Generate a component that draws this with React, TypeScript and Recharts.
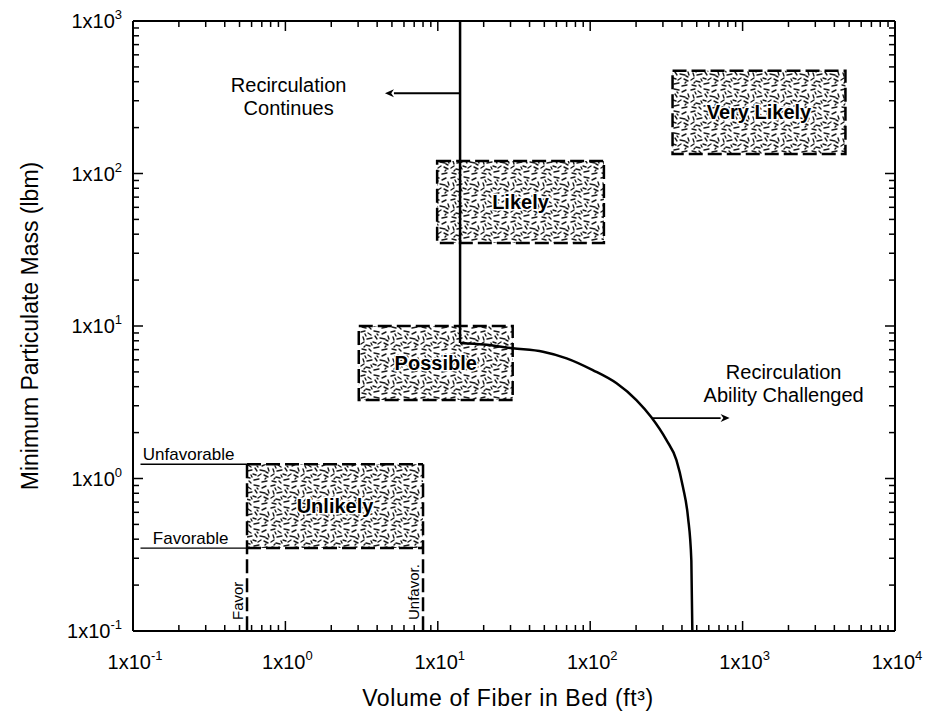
import React from 'react';
import {
  ComposedChart,
  Line,
  XAxis,
  YAxis,
  ReferenceArea,
  ReferenceLine,
  Scatter,
} from 'recharts';

const FONT = "Arial, 'Liberation Sans', Helvetica, sans-serif";

// ---- axis ticks ----
const xMajorTicks = [0.1, 1, 10, 100, 1000, 10000];
const xTickExponents = ['-1', '0', '1', '2', '3', '4'];
const yMajorTicks = [0.1, 1, 10, 100, 1000];
const yTickExponents = ['-1', '0', '1', '2', '3'];
const minorSteps = [2, 3, 4, 5, 6, 7, 8, 9];

const xAllTicks = [
  ...xMajorTicks,
  ...xMajorTicks.slice(0, -1).flatMap((d) => minorSteps.map((m) => m * d)),
];
const yAllTicks = [
  ...yMajorTicks,
  ...yMajorTicks.slice(0, -1).flatMap((d) => minorSteps.map((m) => m * d)),
];

// ---- boundary (vertical limit + curve) ----
const limitVolume = [14, 14];
const limitMass = [1000, 7.74];
const curveVolume = [14, 20, 31, 49, 70, 104, 149, 201, 252, 316, 368, 406, 438, 461, 468];
const curveMass = [7.74, 7.55, 7.14, 6.78, 6.14, 5.14, 4.21, 3.27, 2.52, 1.79, 1.32, 0.88, 0.56, 0.29, 0.1];

// ---- likelihood boxes ----
const boxNames = ['Unlikely', 'Possible', 'Likely', 'Very Likely'];
const boxVolumeLow = [0.56, 3.03, 9.9, 347];
const boxVolumeHigh = [8, 31, 123, 4730];
const boxMassLow = [0.35, 3.27, 35, 134];
const boxMassHigh = [1.24, 10, 121, 472];

// ---- favorable / unfavorable criteria ----
const favorVolume = 0.56;
const unfavorVolume = 8;
const favorMass = 0.35;
const unfavorMass = 1.24;
const axisMinMass = 0.1;
const underlineStart = 0.112;

// ---- arrows ----
const arrowFromVolume = [14, 253];
const arrowToVolume = [4.5, 822];
const arrowMass = [336, 2.49];

// ---- text notes ----
const noteVolume = [1.05, 1860];
const noteMass = [342, 4.49];
const noteLines = [
  ['Recirculation', 'Continues'],
  ['Recirculation', 'Ability Challenged'],
];
const levelVolume = [0.116, 0.135];
const levelMass = [1.24, 0.35];
const levelText = ['Unfavorable', 'Favorable'];
const rotVolume = [0.56, 8];
const rotMass = [0.1, 0.1];
const rotText = ['Favor', 'Unfavor.'];

const limitData = limitVolume.map((x, i) => ({ x, y: limitMass[i] }));
const curveData = curveVolume.map((x, i) => ({ x, y: curveMass[i] }));
const noteData = noteVolume.map((x, i) => ({ x, y: noteMass[i], i }));
const levelData = levelVolume.map((x, i) => ({ x, y: levelMass[i], i }));
const rotData = rotVolume.map((x, i) => ({ x, y: rotMass[i], i }));

const DASH = '14 5';

function BottomTick(props: any) {
  const { x, y, payload } = props;
  const idx = xMajorTicks.indexOf(payload.value);
  const len = idx >= 0 ? 10 : 6;
  return (
    <g>
      <line x1={x} y1={y} x2={x} y2={y - len} stroke="#000" strokeWidth={1.5} />
      {idx >= 0 && (
        <text x={x + 2} y={y + 38} textAnchor="middle" fontFamily={FONT} fontSize={20} fill="#000">
          1x10<tspan dy={-9} fontSize={13}>{xTickExponents[idx]}</tspan>
        </text>
      )}
    </g>
  );
}

function TopTick(props: any) {
  const { x, y, payload } = props;
  const len = xMajorTicks.indexOf(payload.value) >= 0 ? 10 : 6;
  return <line x1={x} y1={y} x2={x} y2={y + len} stroke="#000" strokeWidth={1.5} />;
}

function LeftTick(props: any) {
  const { x, y, payload } = props;
  const idx = yMajorTicks.indexOf(payload.value);
  const len = idx >= 0 ? 10 : 6;
  return (
    <g>
      <line x1={x} y1={y} x2={x + len} y2={y} stroke="#000" strokeWidth={1.5} />
      {idx >= 0 && (
        <text x={x - 11} y={y + 7} textAnchor="end" fontFamily={FONT} fontSize={20} fill="#000">
          1x10<tspan dy={-9} fontSize={13}>{yTickExponents[idx]}</tspan>
        </text>
      )}
    </g>
  );
}

function RightTick(props: any) {
  const { x, y, payload } = props;
  const len = yMajorTicks.indexOf(payload.value) >= 0 ? 10 : 6;
  return <line x1={x} y1={y} x2={x - len} y2={y} stroke="#000" strokeWidth={1.5} />;
}

function XTitle(props: any) {
  const vb = props.viewBox || { x: 133, y: 631, width: 762, height: 85 };
  return (
    <text
      x={vb.x + vb.width / 2 - 6}
      y={vb.y + 75}
      textAnchor="middle"
      fontFamily={FONT}
      fontSize={23}
      letterSpacing={0.6}
      fill="#000"
    >
      Volume of Fiber in Bed (ft³)
    </text>
  );
}

function YTitle(props: any) {
  const vb = props.viewBox || { x: 0, y: 21, width: 133, height: 610 };
  const cx = vb.x + 38;
  const cy = vb.y + vb.height / 2;
  return (
    <text
      x={cx}
      y={cy}
      transform={`rotate(-90, ${cx}, ${cy})`}
      textAnchor="middle"
      fontFamily={FONT}
      fontSize={23}
      fill="#000"
    >
      Minimum Particulate Mass (lbm)
    </text>
  );
}

function ArrowShape(props: any) {
  const { x1, y1, x2, y2 } = props;
  const ang = Math.atan2(y2 - y1, x2 - x1);
  const L = 9;
  const W = 4;
  const bx = x2 - L * Math.cos(ang);
  const by = y2 - L * Math.sin(ang);
  const px = -Math.sin(ang) * W;
  const py = Math.cos(ang) * W;
  return (
    <g>
      <line x1={x1} y1={y1} x2={bx} y2={by} stroke="#000" strokeWidth={1.8} />
      <polygon
        points={`${x2},${y2} ${bx + px},${by + py} ${bx + L * 0.3 * Math.cos(ang)},${by + L * 0.3 * Math.sin(ang)} ${bx - px},${by - py}`}
        fill="#000"
      />
    </g>
  );
}

function NoteShape(props: any) {
  const { cx, cy, payload } = props;
  const lines = noteLines[payload.i];
  return (
    <text x={cx} y={cy} textAnchor="middle" fontFamily={FONT} fontSize={20} fill="#000">
      {lines.map((t, k) => (
        <tspan key={k} x={cx} dy={k === 0 ? 0 : 23}>
          {t}
        </tspan>
      ))}
    </text>
  );
}

function LevelShape(props: any) {
  const { cx, cy, payload } = props;
  return (
    <text x={cx} y={cy - 4} textAnchor="start" fontFamily={FONT} fontSize={17} fill="#000">
      {levelText[payload.i]}
    </text>
  );
}

function RotShape(props: any) {
  const { cx, cy, payload } = props;
  const tx = cx - 4;
  const ty = cy - 11;
  return (
    <text
      x={tx}
      y={ty}
      transform={`rotate(-90, ${tx}, ${ty})`}
      textAnchor="start"
      fontFamily={FONT}
      fontSize={15}
      fill="#000"
    >
      {rotText[payload.i]}
    </text>
  );
}

function makeBoxLabel(name: string) {
  return (props: any) => {
    const vb = props.viewBox;
    if (!vb) return null;
    const cx = vb.x + vb.width / 2;
    const cy = vb.y + vb.height / 2;
    return (
      <text
        x={cx}
        y={cy + 7}
        textAnchor="middle"
        fontFamily={FONT}
        fontSize={20}
        fontWeight="bold"
        fill="#000"
        stroke="#fff"
        strokeWidth={3}
        paintOrder="stroke"
      >
        {name}
      </text>
    );
  };
}

export default function App() {
  return (
    <div style={{ position: 'absolute', left: 0, top: 0, width: 925, height: 716 }}>
      <ComposedChart width={925} height={716} margin={{ top: 20, right: 29, bottom: 0, left: 0 }}>
        <defs>
          <pattern id="speckle" patternUnits="userSpaceOnUse" width="30" height="22">
            <rect width="30" height="22" fill="#ffffff" />
            <path
              d="M1 2 L5 1 M8 3 L11 5 M14 1 L19 2 M22 4 L26 2 M28 6 L29 9 M3 7 L4 10 M7 9 L12 8 M15 6 L17 9 M20 8 L25 9 M1 14 L4 12 M6 15 L10 16 M13 12 L16 13 M18 14 L21 12 M24 13 L28 15 M2 19 L6 20 M9 19 L11 21 M14 18 L19 17 M22 20 L27 19 M26 10 L28 11 M11 13 L12 15 M5 4 L6 6 M17 4 L18 5 M25 17 L26 16 M4 17 L5 16"
              stroke="#1a1a1a"
              strokeWidth={1.4}
              strokeLinecap="round"
              fill="none"
            />
          </pattern>
        </defs>

        <XAxis
          xAxisId={0}
          type="number"
          dataKey="x"
          scale="log"
          domain={[0.1, 10000]}
          allowDataOverflow
          ticks={xAllTicks}
          interval={0}
          tick={BottomTick}
          tickLine={false}
          tickSize={0}
          tickMargin={0}
          axisLine={{ stroke: '#000', strokeWidth: 2 }}
          height={85}
          label={{ content: XTitle }}
        />
        <XAxis
          xAxisId="top"
          orientation="top"
          type="number"
          dataKey="x"
          scale="log"
          domain={[0.1, 10000]}
          allowDataOverflow
          ticks={xAllTicks}
          interval={0}
          tick={TopTick}
          tickLine={false}
          tickSize={0}
          tickMargin={0}
          axisLine={{ stroke: '#000', strokeWidth: 2 }}
          height={1}
        />
        <YAxis
          yAxisId={0}
          type="number"
          dataKey="y"
          scale="log"
          domain={[0.1, 1000]}
          allowDataOverflow
          ticks={yAllTicks}
          interval={0}
          tick={LeftTick}
          tickLine={false}
          tickSize={0}
          tickMargin={0}
          axisLine={{ stroke: '#000', strokeWidth: 2 }}
          width={133}
          label={{ content: YTitle }}
        />
        <YAxis
          yAxisId="right"
          orientation="right"
          type="number"
          dataKey="y"
          scale="log"
          domain={[0.1, 1000]}
          allowDataOverflow
          ticks={yAllTicks}
          interval={0}
          tick={RightTick}
          tickLine={false}
          tickSize={0}
          tickMargin={0}
          axisLine={{ stroke: '#000', strokeWidth: 2 }}
          width={1}
        />

        {boxNames.map((name, i) => (
          <ReferenceArea
            key={name}
            x1={boxVolumeLow[i]}
            x2={boxVolumeHigh[i]}
            y1={boxMassLow[i]}
            y2={boxMassHigh[i]}
            fill="url(#speckle)"
            fillOpacity={1}
            stroke={i === 0 ? 'none' : '#000'}
            strokeWidth={2.5}
            strokeDasharray={DASH}
            ifOverflow="visible"
            label={{ content: makeBoxLabel(name) }}
          />
        ))}

        {/* criteria lines for the Unlikely region */}
        <ReferenceLine
          segment={[{ x: underlineStart, y: unfavorMass }, { x: favorVolume, y: unfavorMass }]}
          stroke="#000"
          strokeWidth={1.3}
        />
        <ReferenceLine
          segment={[{ x: favorVolume, y: unfavorMass }, { x: unfavorVolume, y: unfavorMass }]}
          stroke="#000"
          strokeWidth={2.5}
          strokeDasharray={DASH}
        />
        <ReferenceLine
          segment={[{ x: underlineStart, y: favorMass }, { x: favorVolume, y: favorMass }]}
          stroke="#000"
          strokeWidth={1.3}
        />
        <ReferenceLine
          segment={[{ x: favorVolume, y: favorMass }, { x: unfavorVolume, y: favorMass }]}
          stroke="#000"
          strokeWidth={2.5}
          strokeDasharray={DASH}
        />
        <ReferenceLine
          segment={[{ x: favorVolume, y: unfavorMass }, { x: favorVolume, y: axisMinMass }]}
          stroke="#000"
          strokeWidth={2.5}
          strokeDasharray={DASH}
        />
        <ReferenceLine
          segment={[{ x: unfavorVolume, y: unfavorMass }, { x: unfavorVolume, y: axisMinMass }]}
          stroke="#000"
          strokeWidth={2.5}
          strokeDasharray={DASH}
        />

        {arrowFromVolume.map((xv, i) => (
          <ReferenceLine
            key={'arrow' + i}
            segment={[{ x: xv, y: arrowMass[i] }, { x: arrowToVolume[i], y: arrowMass[i] }]}
            shape={ArrowShape}
          />
        ))}

        <Line
          data={limitData}
          dataKey="y"
          type="linear"
          stroke="#000"
          strokeWidth={2.5}
          dot={false}
          isAnimationActive={false}
        />
        <Line
          data={curveData}
          dataKey="y"
          type="monotone"
          stroke="#000"
          strokeWidth={2.5}
          dot={false}
          isAnimationActive={false}
        />

        <Scatter data={noteData} dataKey="y" shape={NoteShape} isAnimationActive={false} />
        <Scatter data={levelData} dataKey="y" shape={LevelShape} isAnimationActive={false} />
        <Scatter data={rotData} dataKey="y" shape={RotShape} isAnimationActive={false} />
      </ComposedChart>
    </div>
  );
}
